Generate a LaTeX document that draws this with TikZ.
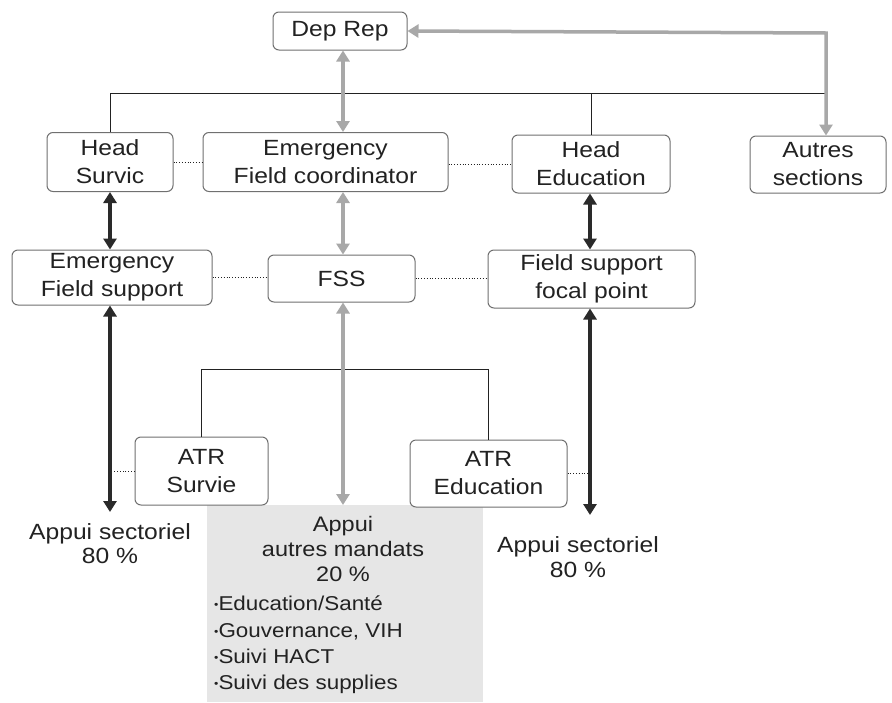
\documentclass[tikz,border=0pt]{standalone}
\usepackage{fontspec}
\setmainfont[FakeStretch=1.12]{Liberation Sans}
\usetikzlibrary{arrows.meta}
\definecolor{ink}{HTML}{222222}
\definecolor{boxline}{HTML}{707070}
\definecolor{lightarrow}{HTML}{A8A8A8}
\definecolor{darkarrow}{HTML}{2A2A2A}
\definecolor{panelgray}{HTML}{E6E6E6}
\tikzset{
  x=1pt, y=-1pt,
  every node/.style={font=\fontsize{22}{28}\selectfont, text=ink},
  unit/.style={draw=boxline, line width=1pt, rounded corners=6pt, align=center,
    inner sep=0pt, fill=white},
  tie/.style={draw=ink, line width=0.8pt},
  dots/.style={draw=ink, line width=0.8pt, dotted},
  greylink/.style={draw=lightarrow, line width=3.5pt,
    {Triangle[width=13pt,length=11pt]}-{Triangle[width=13pt,length=11pt]}},
  darklink/.style={draw=darkarrow, line width=3.5pt,
    {Triangle[width=13pt,length=11pt]}-{Triangle[width=13pt,length=11pt]}},
  note/.style={align=center, inner sep=0pt, anchor=north},
}
\newcommand{\bul}{{\fontsize{11}{11}\selectfont\raisebox{2pt}{•}}}
\begin{document}
\begin{tikzpicture}
\useasboundingbox[fill=white] (0,0) rectangle (892,702);

% light panel behind the "autres mandats" block
\fill[panelgray] (207,505) rectangle (483,702);

% boxes
\node[unit, minimum width=134pt, minimum height=38pt] (deprep) at (340,31) {Dep Rep};
\node[unit, minimum width=126pt, minimum height=59pt] (hs) at (110,162) {Head\\Survic};
\node[unit, minimum width=245pt, minimum height=59pt] (efc) at (325.5,162) {Emergency\\Field coordinator};
\node[unit, minimum width=158pt, minimum height=58pt] (he) at (591,164) {Head\\Education};
\node[unit, minimum width=136pt, minimum height=57pt] (autres) at (818,164.5) {Autres\\sections};
\node[unit, minimum width=200pt, minimum height=55pt] (efs) at (112,277.5) {Emergency\\Field support};
\node[unit, minimum width=147pt, minimum height=47pt] (fss) at (341.5,278.5) {FSS};
\node[unit, minimum width=207pt, minimum height=58pt] (fsfp) at (591.5,279) {Field support\\focal point};
\node[unit, minimum width=133pt, minimum height=68pt] (atrs) at (201.5,471) {ATR\\Survie};
\node[unit, minimum width=157pt, minimum height=67pt] (atre) at (488.5,473.5) {ATR\\Education};

% free ends of the long arrows
\coordinate (topbus) at (826,93);
\coordinate (corner) at (826,33);
\coordinate (endL) at (110,512);
\coordinate (endM) at (343,505);
\coordinate (endR) at (590,515);

% thin hierarchy lines
\draw[tie] (hs.north) |- (topbus);
\draw[tie] (he.north) -- (he.north |- topbus);
\draw[tie] (atrs.north) -- ++(0,-67) -| (atre.north);

% dotted peer links
\draw[dots] (hs.east) -- (hs.east -| efc.west);
\draw[dots] (efc.east |- he.west) -- (he.west);
\draw[dots] (efs.east) -- (efs.east -| fss.west);
\draw[dots] (fss.east) -- (fss.east -| fsfp.west);
\draw[dots] (atrs.west) -- (atrs.west -| endL);
\draw[dots] (atre.east) -- (atre.east -| endR);

% arrows
\draw[greylink] (deprep.east) -- (corner) -- (corner |- autres.north);
\draw[greylink] (deprep.south -| endM) -- (endM |- efc.north);
\draw[greylink] (endM |- efc.south) -- (endM |- fss.north);
\draw[greylink] (endM |- fss.south) -- (endM);
\draw[darklink] (endL |- hs.south) -- (endL |- efs.north);
\draw[darklink] (endL |- efs.south) -- (endL);
\draw[darklink] (endR |- he.south) -- (endR |- fsfp.north);
\draw[darklink] (endR |- fsfp.south) -- (endR);

% labels under the arrows
\node[note, font=\fontsize{22}{24}\selectfont] (lblL) at (110,523) {Appui sectoriel\\80 \%};
\node[note, font=\fontsize{22}{25}\selectfont] (lblR) at (578,536) {Appui sectoriel\\80 \%};
\node[note, font=\fontsize{21}{25}\selectfont] (lblM) at (343,516) {Appui\\autres mandats\\20 \%};
\node[note, align=left, anchor=north west, font=\fontsize{20}{26.3}\selectfont] (list) at (214,596)
  {\bul Education/Santé\\\bul Gouvernance, VIH\\\bul Suivi HACT\\\bul Suivi des supplies};
\end{tikzpicture}
\end{document}
